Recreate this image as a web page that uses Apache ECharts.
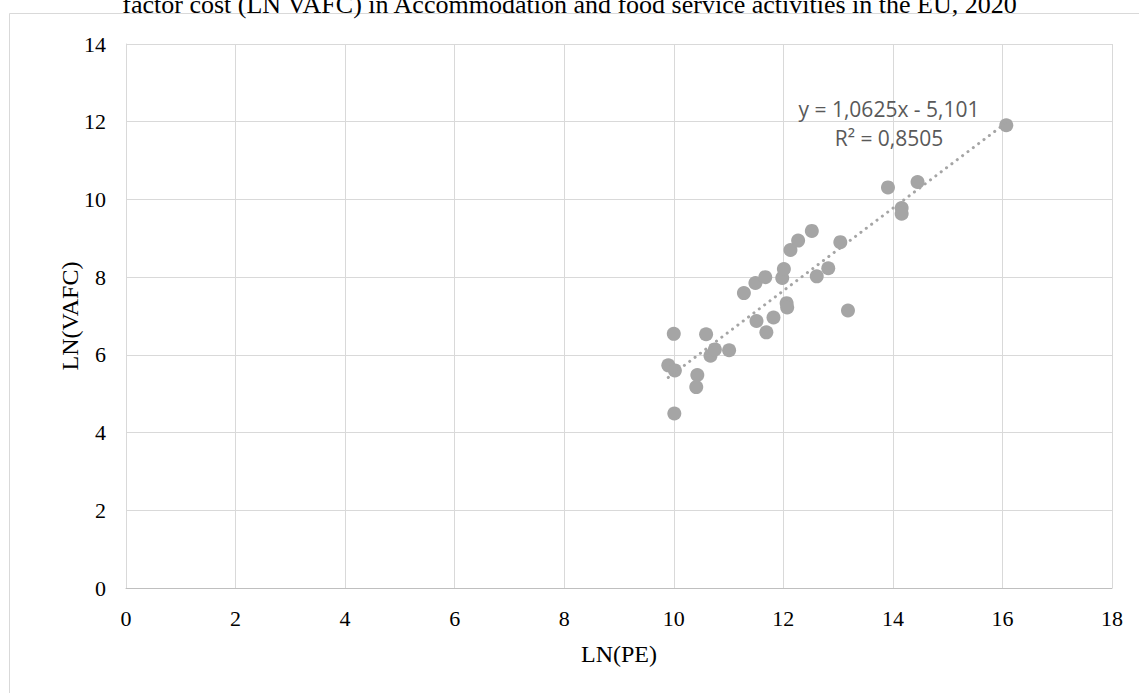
<!DOCTYPE html>
<html>
<head>
<meta charset="utf-8">
<script src="https://cdn.jsdelivr.net/npm/echarts@6/dist/echarts.min.js"></script>
<style>
html,body{margin:0;padding:0;background:#fff;}
#chart{width:1139px;height:693px;}
</style>
</head>
<body>
<div id="chart"></div>
<script>
const titleText = 'factor cost (LN VAFC) in Accommodation and food service activities in the EU, 2020';
const xName = 'LN(PE)';
const yName = 'LN(VAFC)';
const xVals = [9.90, 10.02, 10.00, 10.01, 10.43, 10.41, 10.59, 10.67, 10.75, 11.01, 11.28, 11.49, 11.51, 11.67, 11.69, 11.82, 11.98, 12.01, 12.06, 12.07, 12.13, 12.27, 12.52, 12.61, 12.82, 13.04, 13.18, 13.91, 14.16, 14.16, 14.45, 16.07];
const yVals = [5.73, 5.60, 6.54, 4.49, 5.48, 5.17, 6.53, 5.98, 6.14, 6.12, 7.59, 7.85, 6.87, 8.00, 6.58, 6.96, 7.98, 8.21, 7.33, 7.22, 8.70, 8.94, 9.19, 8.02, 8.23, 8.90, 7.14, 10.31, 9.78, 9.63, 10.45, 11.91];
const trendSlope = 1.0625;
const trendIntercept = -5.101;
const eqLines = ['y = 1,0625x - 5,101', 'R² = 0,8505'];

const points = xVals.map((x, i) => [x, yVals[i]]);
const xMin = Math.min(...xVals), xMax = Math.max(...xVals);
const trend = [[xMin, trendSlope * xMin + trendIntercept], [xMax, trendSlope * xMax + trendIntercept]];

const chart = echarts.init(document.getElementById('chart'), null, {renderer: 'svg'});
const serif = '"Liberation Serif", "Times New Roman", serif';
chart.setOption({
  animation: false,
  backgroundColor: '#fff',
  title: {
    text: titleText, left: 'center', top: -14,
    textStyle: {fontFamily: serif, fontSize: 26, fontWeight: 'normal', color: '#000'}
  },
  grid: {left: 126, right: 27, top: 44, bottom: 105},
  xAxis: {
    type: 'value', min: 0, max: 18, interval: 2,
    name: xName, nameLocation: 'middle', nameGap: 54, nameMoveOverlap: false,
    nameTextStyle: {fontFamily: serif, fontSize: 24, color: '#000'},
    axisLine: {show: true, lineStyle: {color: '#bfbfbf', width: 1}},
    axisTick: {show: false},
    axisLabel: {fontFamily: serif, fontSize: 22, color: '#000', margin: 19},
    splitLine: {show: true, lineStyle: {color: '#d9d9d9', width: 1}}
  },
  yAxis: {
    type: 'value', min: 0, max: 14, interval: 2,
    name: yName, nameLocation: 'middle', nameGap: 44, nameRotate: 90, nameMoveOverlap: false,
    nameTextStyle: {fontFamily: serif, fontSize: 24, color: '#000'},
    axisLine: {show: true, lineStyle: {color: '#d9d9d9', width: 1}},
    axisTick: {show: false},
    axisLabel: {fontFamily: serif, fontSize: 22, color: '#000', margin: 20},
    splitLine: {show: true, lineStyle: {color: '#d9d9d9', width: 1}}
  },
  graphic: [
    {type: 'rect', shape: {x: 9.5, y: 13.5, width: 1400, height: 1000}, style: {fill: 'none', stroke: '#d9d9d9', lineWidth: 1}, silent: true, z: -10},
    {type: 'text', x: 889, y: 109, style: {text: eqLines[0], fill: '#595959', font: '21px "Open Sans", sans-serif', textAlign: 'center', textVerticalAlign: 'middle'}, z: 100},
    {type: 'text', x: 889, y: 138, style: {text: eqLines[1], fill: '#595959', font: '21px "Open Sans", sans-serif', textAlign: 'center', textVerticalAlign: 'middle'}, z: 100}
  ],
  series: [
    {
      type: 'scatter', data: points, symbol: 'circle', symbolSize: 14,
      itemStyle: {color: '#a5a5a5', opacity: 1}, z: 2
    },
    {
      type: 'line', data: trend, symbol: 'none', silent: true,
      lineStyle: {color: '#a5a5a5', width: 3, type: [0.1, 6.6], cap: 'round'}, z: 3
    }
  ]
});
</script>
</body>
</html>
